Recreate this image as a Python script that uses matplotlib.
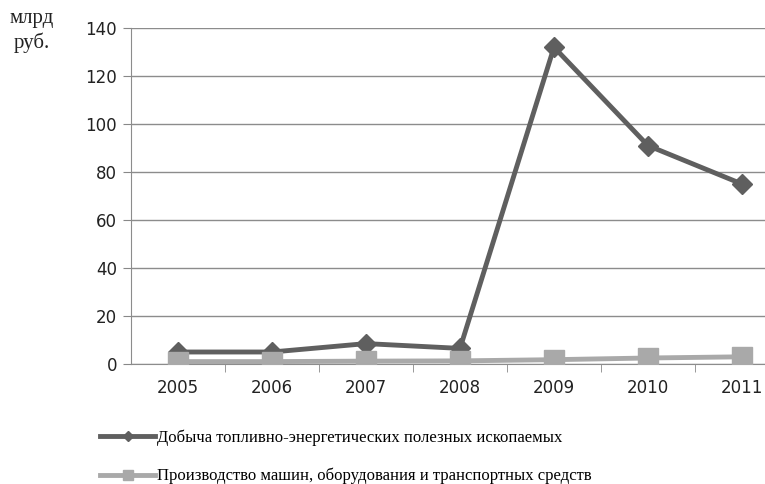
import matplotlib
matplotlib.use('Agg')
import matplotlib.pyplot as plt
import numpy as np

# Data
years = ['2005', '2006', '2007', '2008', '2009', '2010', '2011']
fuel = [5, 5, 8.5, 6.5, 132, 91, 75]
machines = [1, 1, 1.2, 1.3, 1.8, 2.5, 3]
fuel_label = 'Добыча топливно-энергетических полезных ископаемых'
mach_label = 'Производство машин, оборудования и транспортных средств'

dark = '#5f5f5f'
light = '#a9a9a9'

fig = plt.figure(figsize=(7.65, 4.84), dpi=100)
ax = fig.add_axes([131/765, 1 - 364/484, 658/765, 336/484])

x = np.arange(len(years))
l1, = ax.plot(x, fuel, color=dark, lw=3.5, marker='D', markersize=10,
              label=fuel_label, zorder=3)
l2, = ax.plot(x, machines, color=light, lw=3.5, marker='s', markersize=14,
              label=mach_label, zorder=4)

ax.set_xlim(-0.5, len(years) - 0.5)
ax.set_ylim(0, 140)
ax.set_yticks(range(0, 141, 20))
ax.set_xticks(x)
ax.set_xticklabels(years)
ax.set_xticks(np.arange(0.5, len(years) - 0.5), minor=True)
ax.tick_params(axis='x', which='major', length=0, pad=11, labelsize=12)
ax.tick_params(axis='x', which='minor', length=6, color='#888888', direction='out')
ax.tick_params(axis='y', length=6, color='#888888', labelsize=12, pad=4)
for lab in ax.get_xticklabels() + ax.get_yticklabels():
    lab.set_color('#222222')

ax.grid(True, axis='y', color='#8c8c8c', lw=1)
ax.set_axisbelow(True)
for s in ['top', 'right']:
    ax.spines[s].set_visible(False)
ax.spines['left'].set_color('#8c8c8c')
ax.spines['bottom'].set_color('#8c8c8c')

fig.text(32/765, 1 - 31/484, 'млрд\nруб.', ha='center', va='center',
         family='Liberation Serif', fontsize=15, linespacing=1.25, color='#222222')

# Legend
h1 = plt.Line2D([], [], color=dark, lw=3.5, marker='D', markersize=5)
h2 = plt.Line2D([], [], color=light, lw=3.5, marker='s', markersize=7)
fig.legend([h1, h2], [fuel_label, mach_label], loc='upper left',
           bbox_to_anchor=(85/765, 1 - 414/484), frameon=False,
           prop={'family': 'Liberation Serif', 'size': 12},
           handlelength=3.3, handletextpad=0.1, labelspacing=1.35)

plt.savefig('out.png', dpi=100)
plt.close()
